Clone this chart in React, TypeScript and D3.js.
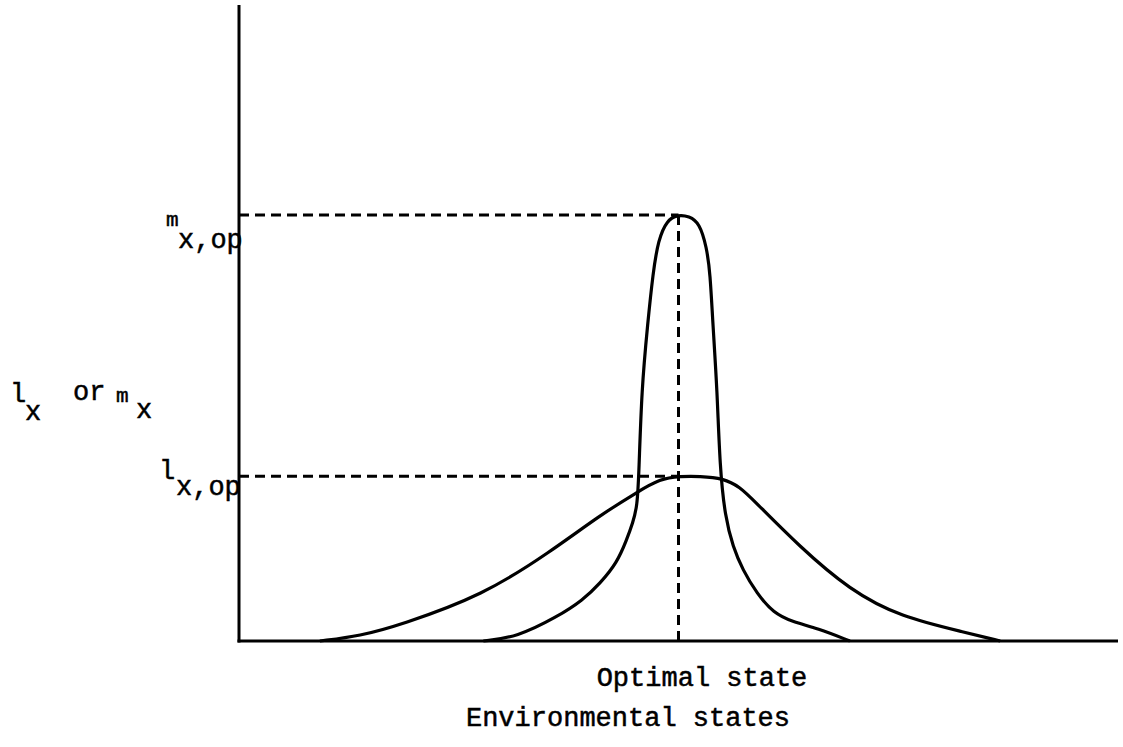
import React from 'react'
import * as d3 from 'd3'

// environmental state (x) vs. value (y), both on a 0–100 scale
const mxX = [27.8, 31.6, 36.2, 39.1, 41.1, 43.0, 44.1, 44.8, 45.3, 45.5, 45.8, 46.5, 47.1, 47.7, 48.7, 49.9, 51.2, 52.4, 53.2, 53.6, 53.9, 54.4, 54.7, 55.3, 56.2, 57.3, 58.9, 60.8, 63.0, 65.8, 69.5]
const mxY = [0, 0.6, 3.8, 6.4, 9.1, 12.3, 15.9, 18.6, 21.1, 26.4, 39.5, 50.0, 57.9, 63.1, 66.2, 67.0, 66.8, 65.7, 61.9, 57.9, 50.0, 39.5, 27.4, 19.5, 14.8, 11.2, 7.5, 4.4, 3.0, 2.0, 0]

const lxX = [9.2, 13.8, 18.3, 27.8, 35.4, 41.1, 45.3, 47.9, 50.2, 52.4, 55.1, 57.0, 58.5, 63.8, 69.5, 75.2, 82.8, 86.6]
const lxY = [0, 0.8, 2.5, 7.2, 14.0, 19.8, 23.4, 25.5, 25.9, 25.9, 25.6, 24.2, 22.2, 14.8, 8.0, 3.8, 1.3, 0]

const optimum = 50.0
const mxOp = 67.0
const lxOp = 25.9

const W = 1123
const H = 747
const font = "'Liberation Mono', 'DejaVu Sans Mono', monospace"

export default function App() {
  const x = d3.scaleLinear().domain([0, 100]).range([239, 1118])
  const y = d3.scaleLinear().domain([0, 100]).range([641, 5])

  const line = d3.line<[number, number]>()
    .x(d => x(d[0]))
    .y(d => y(d[1]))
    .curve(d3.curveBasis)

  const mx = mxX.map((v, i) => [v, mxY[i]] as [number, number])
  const lx = lxX.map((v, i) => [v, lxY[i]] as [number, number])

  const dash = '10,6'

  return (
    <div style={{ position: 'absolute', left: 0, top: 0 }}>
      <svg width={W} height={H} style={{ display: 'block', background: '#fff' }}>
        {/* axes */}
        <line x1={x(0)} x2={x(0)} y1={y(100)} y2={y(0) + 1.5} stroke="#000" strokeWidth={3} />
        <line x1={x(0) - 1.5} x2={x(100)} y1={y(0)} y2={y(0)} stroke="#000" strokeWidth={3} />

        {/* optimum guides */}
        <line x1={x(0)} x2={x(optimum)} y1={y(mxOp)} y2={y(mxOp)} stroke="#000" strokeWidth={3} strokeDasharray={dash} />
        <line x1={x(0)} x2={x(optimum)} y1={y(lxOp)} y2={y(lxOp)} stroke="#000" strokeWidth={3} strokeDasharray={dash} />
        <line x1={x(optimum)} x2={x(optimum)} y1={y(mxOp)} y2={y(0)} stroke="#000" strokeWidth={3} strokeDasharray={dash} />

        {/* curves */}
        <path d={line(mx) ?? ''} fill="none" stroke="#000" strokeWidth={3.2} strokeLinejoin="round" />
        <path d={line(lx) ?? ''} fill="none" stroke="#000" strokeWidth={3.2} strokeLinejoin="round" />

        {/* labels */}
        <g fontFamily={font} fontSize={27} fill="#000" stroke="#000" strokeWidth={0.5}>
          <text x={166} y={226} fontSize={21}>m</text>
          <text x={178} y={248}>x,op</text>

          <text x={159} y={479}>l</text>
          <text x={176} y={495}>x,op</text>

          <text x={10} y={402}>l</text>
          <text x={25} y={420}>x</text>
          <text x={73} y={400}>or</text>
          <text x={116} y={402} fontSize={21}>m</text>
          <text x={136} y={418}>x</text>

          <text x={702} y={686} textAnchor="middle">Optimal state</text>
          <text x={628} y={726} textAnchor="middle">Environmental states</text>
        </g>
      </svg>
    </div>
  )
}
